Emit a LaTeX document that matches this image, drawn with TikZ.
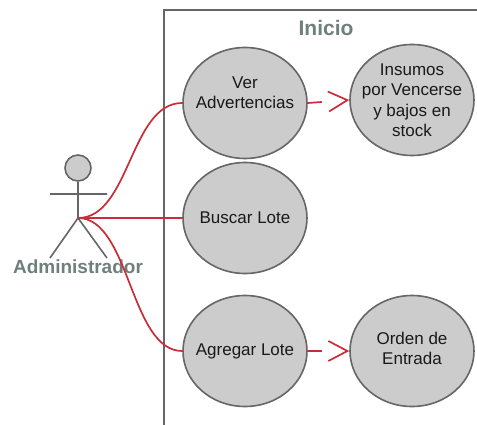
\documentclass[tikz,border=0pt]{standalone}
\usepackage{fontspec}
\setmainfont{Liberation Sans}
\usetikzlibrary{arrows.meta,shapes.geometric}
\definecolor{linegray}{HTML}{666666}
\definecolor{fillgray}{HTML}{CCCCCC}
\definecolor{linered}{HTML}{C92D39}
\definecolor{titlegray}{HTML}{6F7F7C}
\begin{document}
\begin{tikzpicture}[x=1pt,y=-1pt]
	\tikzstyle{usecase}=[ellipse,draw=linegray,fill=fillgray,line width=1.6pt,minimum width=124pt,minimum height=111pt,inner sep=-30pt,align=center,text=black!90,font=\fontsize{17}{20.5}\selectfont]
	\tikzstyle{title}=[text=titlegray,inner sep=0pt,font=\bfseries]
	\tikzstyle{stick}=[draw=linegray,line width=1.6pt]
	\tikzstyle{assoc}=[draw=linered,line width=1.7pt]
	\tikzstyle{include}=[draw=linered,line width=1.7pt,dash pattern=on 14pt off 200pt,-{Straight Barb[length=19pt,width=20pt,line width=1.7pt]}]
	\useasboundingbox (0,0) rectangle (477,425);
	\coordinate (f_1) at (477,10);
	\coordinate (f_2) at (164,10);
	\coordinate (f_3) at (164,425);
	\draw[stick] (f_1) -- (f_2) -- (f_3);
	\node[title,font=\bfseries\fontsize{21}{24}\selectfont] (inicio) at (326,28) {Inicio};
	\node[usecase] (ver) at (245,103) {Ver\\Advertencias\\};
	\node[usecase] (insumos) at (412,100) {Insumos\\por Vencerse\\y bajos en\\stock};
	\node[usecase] (buscar) at (245,218) {Buscar Lote};
	\node[usecase] (agregar) at (245,351) {Agregar Lote};
	\node[usecase] (orden) at (412,351) {Orden de\\Entrada\\[-15.5pt]};
	\node[circle,stick,fill=fillgray,minimum size=26pt,inner sep=0pt] (head) at (78,168) {};
	\coordinate (hip) at (78,218);
	\coordinate (arm_l) at (50,194);
	\coordinate (arm_r) at (107,194);
	\coordinate (leg_l) at (50,258);
	\coordinate (leg_r) at (107,258);
	\draw[stick] (head) -- (hip) (arm_l) -- (arm_r) (leg_l) -- (hip) -- (leg_r);
	\node[title,font=\bfseries\fontsize{19}{22}\selectfont] (admin) at (78,267) {Administrador};
	\draw[assoc] (hip) .. controls (130,218) and (130,103) .. (ver.west);
	\draw[assoc] (hip) -- (buscar.west);
	\draw[assoc] (hip) .. controls (130,218) and (130,351) .. (agregar.west);
	\draw[include] (ver.east) -- (insumos.west);
	\draw[include] (agregar.east) -- (orden.west);
\end{tikzpicture}
\end{document}
